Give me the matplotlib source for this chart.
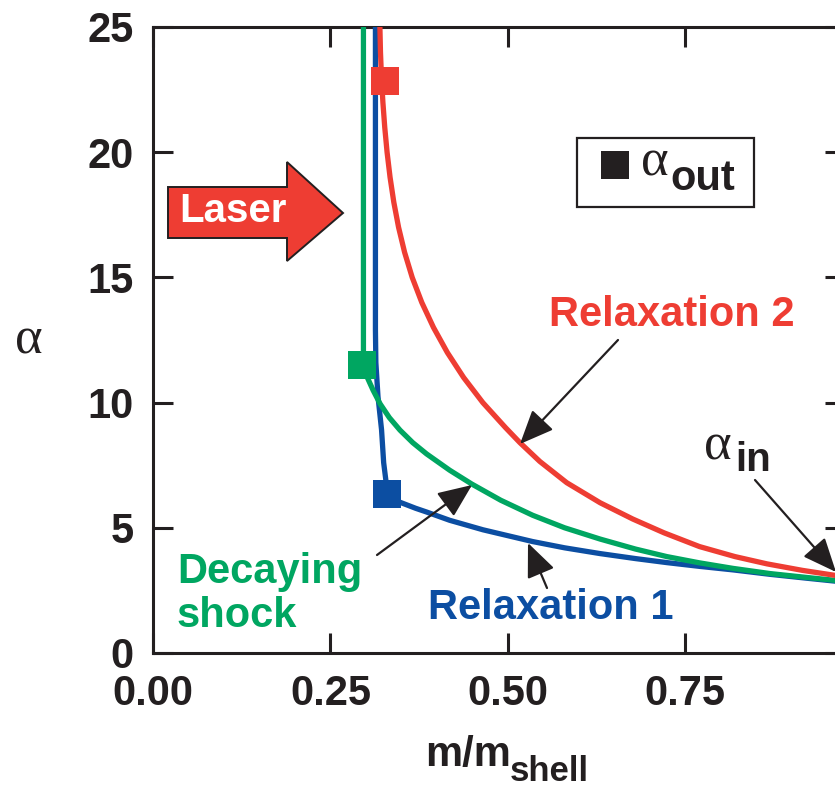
import matplotlib
matplotlib.use('Agg')
import matplotlib.pyplot as plt
from matplotlib.patches import Polygon, Rectangle

plt.rcParams['font.family'] = ['Liberation Sans', 'DejaVu Sans']

# ---------------- data ----------------
green_x = [0.2965, 0.2965, 0.297, 0.302, 0.310, 0.320, 0.333, 0.348, 0.366, 0.3855,
           0.418, 0.449, 0.490, 0.535, 0.580, 0.630, 0.680, 0.724, 0.770, 0.817,
           0.870, 0.920, 0.961, 0.975]
green_y = [25.5, 11.6, 11.4, 11.0, 10.5, 9.95, 9.4, 8.9, 8.4, 7.95,
           7.3, 6.75, 6.1, 5.5, 5.0, 4.55, 4.15, 3.85, 3.6, 3.38,
           3.17, 3.02, 2.9, 2.87]

blue_x = [0.3134, 0.3134, 0.314, 0.317, 0.322, 0.325, 0.328, 0.3296, 0.348, 0.370,
          0.3855, 0.418, 0.465, 0.535, 0.580, 0.630, 0.680, 0.724, 0.770, 0.817,
          0.870, 0.920, 0.961, 0.975]
blue_y = [25.5, 12.9, 11.6, 10.24, 8.92, 7.6, 6.92, 6.36, 6.02, 5.78,
          5.63, 5.3, 4.92, 4.45, 4.2, 3.97, 3.77, 3.61, 3.46, 3.32,
          3.14, 2.99, 2.87, 2.83]

red_x = [0.3197, 0.3197, 0.3205, 0.3219, 0.3239, 0.3265, 0.3298, 0.3340, 0.3393,
         0.3460, 0.3545, 0.3652, 0.3787, 0.3952, 0.4147, 0.4377, 0.4647, 0.4967,
         0.517, 0.545, 0.583, 0.630, 0.676, 0.720, 0.770, 0.820, 0.865, 0.915,
         0.961, 0.975]
red_y = [25.5, 25.0, 24.0, 23.0, 22.0, 21.0, 20.0, 19.0, 18.0,
         17.0, 16.0, 15.0, 14.0, 13.0, 12.0, 11.0, 10.0, 9.0,
         8.4, 7.65, 6.8, 6.0, 5.35, 4.8, 4.25, 3.85, 3.56, 3.3,
         3.1, 3.05]

out_x = [0.294, 0.330, 0.327]
out_y = [11.5, 6.36, 22.84]

x_ticks = [0.0, 0.25, 0.50, 0.75]
x_ticklabels = ['0.00', '0.25', '0.50', '0.75']
y_ticks = [0, 5, 10, 15, 20, 25]
y_ticklabels = ['0', '5', '10', '15', '20', '25']

RED = '#ee3d33'
GREEN = '#00a661'
BLUE = '#0c4ea2'
BLACK = '#231f20'

# ---------------- figure ----------------
W, H = 835, 788
fig = plt.figure(figsize=(W / 100, H / 100), dpi=100)
L, R, T, B = 153, 845, 27, 653
ax = fig.add_axes([L / W, 1 - B / H, (R - L) / W, (B - T) / H])
ax.set_xlim(0, 0.975)
ax.set_ylim(0, 25)


def P(px, py):
    return (px / W, 1 - py / H)


def D(px, py):
    return ((px - L) / (R - L) * 0.975, (B - py) / (B - T) * 25)


line_kw = dict(lw=3.8, solid_capstyle='butt', solid_joinstyle='round')
ax.plot(blue_x, blue_y, color=BLUE, zorder=3, **line_kw)
ax.plot(green_x, green_y, color=GREEN, zorder=4, **line_kw)
ax.plot(red_x, red_y, color=RED, zorder=4, **line_kw)
for xx, yy, c in zip(out_x, out_y, [GREEN, BLUE, RED]):
    ax.plot([xx], [yy], marker='s', ms=20, color=c, mec=c, mew=0, zorder=6,
            clip_on=False)

for s in ax.spines.values():
    s.set_linewidth(2.2)
    s.set_color(BLACK)
ax.set_xticks(x_ticks)
ax.set_xticklabels(x_ticklabels)
ax.set_yticks(y_ticks)
ax.set_yticklabels(y_ticklabels)
ax.tick_params(direction='in', length=14.5, width=2.2, color=BLACK,
               top=True, right=True, labelsize=30, labelcolor=BLACK)
ax.tick_params(axis='x', pad=15)
ax.tick_params(axis='y', pad=14)
for lab in ax.get_xticklabels() + ax.get_yticklabels():
    lab.set_fontweight('bold')

# axis labels
fig.text(*P(425, 766), 'm/m', fontsize=30, fontweight='bold', color=BLACK,
         ha='left', va='baseline')
fig.text(*P(510, 781), 'shell', fontsize=25, fontweight='bold', color=BLACK,
         ha='left', va='baseline')
fig.text(*P(29, 340), 'α', fontsize=38, family=['Liberation Serif', 'DejaVu Serif'],
         color=BLACK, ha='center', va='center')

# curve labels
ax.text(*D(672, 315), 'Relaxation 2', fontsize=30, fontweight='bold', color=RED,
        ha='center', va='center')
ax.text(*D(551, 608), 'Relaxation 1', fontsize=30, fontweight='bold', color=BLUE,
        ha='center', va='center')
ax.text(*D(177, 583), 'Decaying', fontsize=30, fontweight='bold', color=GREEN,
        ha='left', va='baseline')
ax.text(*D(177, 627), 'shock', fontsize=30, fontweight='bold', color=GREEN,
        ha='left', va='baseline')

# alpha_in label
fig.text(*P(704, 460), 'α', fontsize=38, family=['Liberation Serif', 'DejaVu Serif'],
         color=BLACK, ha='left', va='baseline')
fig.text(*P(735, 471), 'in', fontsize=29, fontweight='bold', color=BLACK,
         ha='left', va='baseline')

# arrows
arrow_kw = dict(arrowstyle='-|>,head_length=1.05,head_width=0.45', color=BLACK,
                lw=1.6, shrinkA=0, shrinkB=0, mutation_scale=20)
for tail, tip in [((618, 340), (520, 444)),
                  ((755, 480), (836, 572)),
                  ((377, 555), (472, 485)),
                  ((547, 588), (528, 543))]:
    ax.annotate('', xy=D(*tip), xytext=D(*tail), arrowprops=arrow_kw,
                annotation_clip=False, zorder=7)

# legend box
fig.patches.append(Rectangle(P(577, 207), 177 / W, 69 / H, transform=fig.transFigure,
                             facecolor='white', edgecolor=BLACK, lw=1.6, zorder=8))
fig.patches.append(Rectangle(P(601, 179), 28 / W, 28 / H, transform=fig.transFigure,
                             facecolor=BLACK, edgecolor='none', zorder=9))
fig.text(*P(641, 176), 'α', fontsize=38, family=['Liberation Serif', 'DejaVu Serif'],
         color=BLACK, ha='left', va='baseline', zorder=10)
fig.text(*P(670, 190), 'out', fontsize=30, fontweight='bold', color=BLACK,
         ha='left', va='baseline', zorder=10)

# laser arrow
laser_pts = [P(168, 187), P(287, 187), P(287, 162), P(343, 213),
             P(287, 261), P(287, 238), P(168, 238)]
fig.patches.append(Polygon(laser_pts, closed=True, transform=fig.transFigure,
                           facecolor=RED, edgecolor=BLACK, lw=1.4, zorder=8))
fig.text(*P(233, 211), 'Laser', fontsize=29, fontweight='bold', color='white',
         ha='center', va='center', zorder=10)

fig.savefig('out.png', dpi=100)
